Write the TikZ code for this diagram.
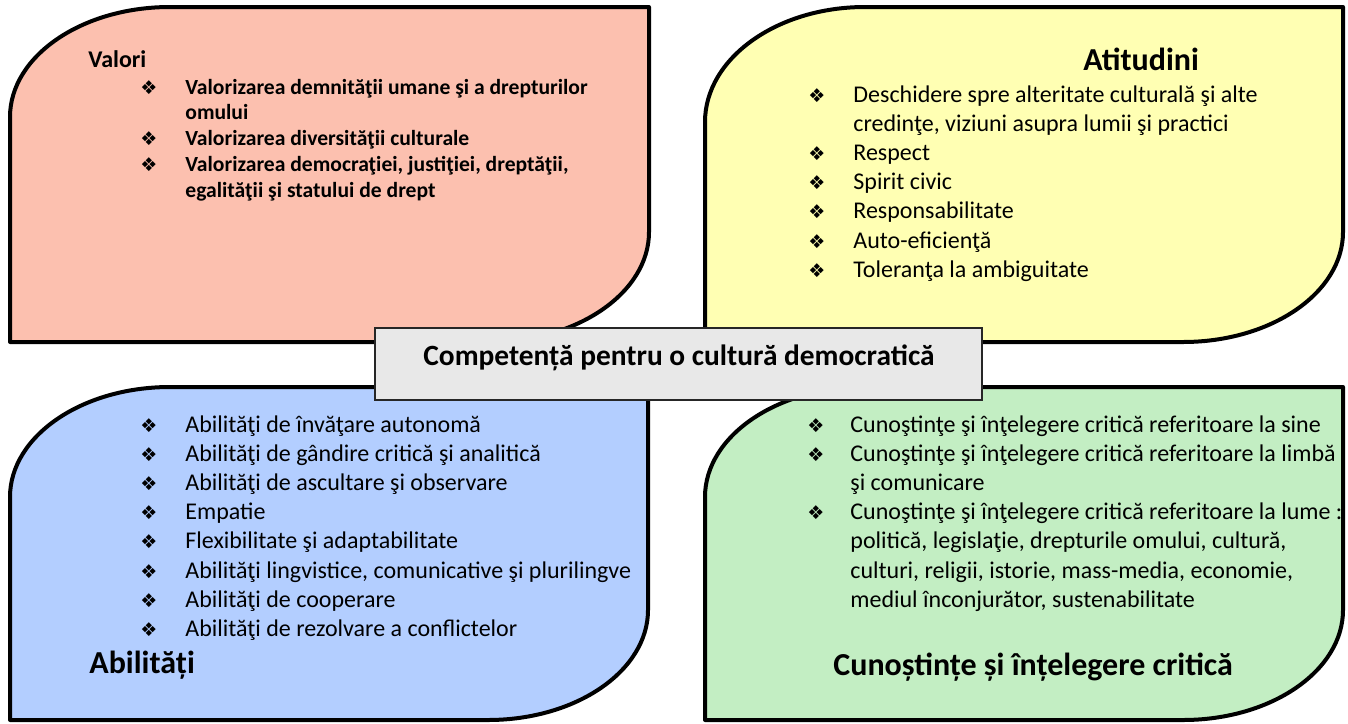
\documentclass[tikz,border=0pt]{standalone}
\usepackage{fontspec}
\setmainfont{Carlito}
\newfontfamily\symfont{DejaVu Sans}
\usepackage{xcolor}
\usepackage{tikz}
\usetikzlibrary{positioning}
\definecolor{valbg}{HTML}{FCC0AF}
\definecolor{atibg}{HTML}{FFFFB3}
\definecolor{abibg}{HTML}{B3CEFF}
\definecolor{cunbg}{HTML}{C3EEC3}
\definecolor{corebg}{HTML}{E8E8E8}
\definecolor{ink}{HTML}{000000}
\newcommand{\itembul}{{\symfont\fontsize{9.5}{9.5}\selectfont ❖}}
\tikzset{
  leaf/.style={draw=ink, line width=2pt, line join=round},
  corebox/.style={draw=ink!85, fill=corebg, line width=1pt, minimum width=303.5pt, minimum height=36pt, inner sep=0pt},
  items/.style={anchor=base west, inner sep=0pt, font=\fontsize{12}{14.6}\selectfont},
  itemsb/.style={anchor=base west, inner sep=0pt, font=\bfseries\fontsize{10.8}{12.9}\selectfont},
  head/.style={anchor=base west, inner sep=0pt, font=\bfseries\fontsize{16}{19}\selectfont},
  corelab/.style={anchor=base west, inner sep=0pt, font=\bfseries\fontsize{14.7}{17}\selectfont},
}

\begin{document}
\begin{tikzpicture}[x=0.5pt, y=-0.5pt]
\useasboundingbox (0,0) rectangle (1348,723);
% the four fields
\draw[leaf, fill=valbg] (10,117) .. controls (10,56.3) and (81.7,7) .. (170,7) -- (649,7) -- (649,232)
  .. controls (649,292.7) and (577.3,342) .. (489,342) -- (10,342) -- cycle;
\draw[leaf, fill=atibg] (705,122) .. controls (705,58.5) and (776.7,7) .. (865,7) -- (1343,7) -- (1343,232)
  .. controls (1343,292.7) and (1271.3,342) .. (1183,342) -- (705,342) -- cycle;
\draw[leaf, fill=abibg] (10,497) .. controls (10,436.3) and (81.7,387) .. (170,387) -- (648,387) -- (648,610)
  .. controls (648,670.7) and (576.3,720) .. (488,720) -- (10,720) -- cycle;
\draw[leaf, fill=cunbg] (705,497) .. controls (705,436.3) and (776.7,387) .. (865,387) -- (1343,387) -- (1343,610)
  .. controls (1343,670.7) and (1271.3,720) .. (1183,720) -- (705,720) -- cycle;

% Valori
\node[itemsb, font=\bfseries\fontsize{12}{14}\selectfont] (valori) at (88,67) {Valori};
\node[itemsb] (valori-list) at (140,94) {\begin{tabular}[t]{@{}p{22.5pt}@{}l@{}}
\itembul & Valorizarea demnităţii umane şi a drepturilor\\
 & omului\\
\itembul & Valorizarea diversităţii culturale\\
\itembul & Valorizarea democraţiei, justiţiei, dreptăţii,\\
 & egalităţii şi statului de drept
\end{tabular}};

% Atitudini
\node[head] (atitudini) at (1083,70) {Atitudini};
\node[items] (atitudini-list) at (808,102) {\begin{tabular}[t]{@{}p{22.5pt}@{}l@{}}
\itembul & Deschidere spre alteritate culturală şi alte\\
 & credinţe, viziuni asupra lumii şi practici\\
\itembul & Respect\\
\itembul & Spirit civic\\
\itembul & Responsabilitate\\
\itembul & Auto-eficienţă\\
\itembul & Toleranţa la ambiguitate
\end{tabular}};

% Abilitati
\node[items] (abilitati-list) at (140,432) {\begin{tabular}[t]{@{}p{22.5pt}@{}l@{}}
\itembul & Abilităţi de învăţare autonomă\\
\itembul & Abilităţi de gândire critică şi analitică\\
\itembul & Abilităţi de ascultare şi observare\\
\itembul & Empatie\\
\itembul & Flexibilitate şi adaptabilitate\\
\itembul & Abilităţi lingvistice, comunicative şi plurilingve\\
\itembul & Abilităţi de cooperare\\
\itembul & Abilităţi de rezolvare a conflictelor
\end{tabular}};
\node[head] (abilitati) at (89,673) {Abilități};

% Cunostinte
\node[items] (cunostinte-list) at (807,432) {\begin{tabular}[t]{@{}p{21.5pt}@{}l@{}}
\itembul & Cunoştinţe şi înţelegere critică referitoare la sine\\
\itembul & Cunoştinţe şi înţelegere critică referitoare la limbă\\
 & şi comunicare\\
\itembul & Cunoştinţe şi înţelegere critică referitoare la lume :\\
 & politică, legislaţie, drepturile omului, cultură,\\
 & culturi, religii, istorie, mass-media, economie,\\
 & mediul înconjurător, sustenabilitate
\end{tabular}};
\node[head] (cunostinte) at (833,675) {Cunoștințe și înțelegere critică};

% centre
\node[corebox] (core) at (678.5,364) {};
\node[corelab] (core-text) at (423,365) {Competență pentru o cultură democratică};
\end{tikzpicture}
\end{document}
